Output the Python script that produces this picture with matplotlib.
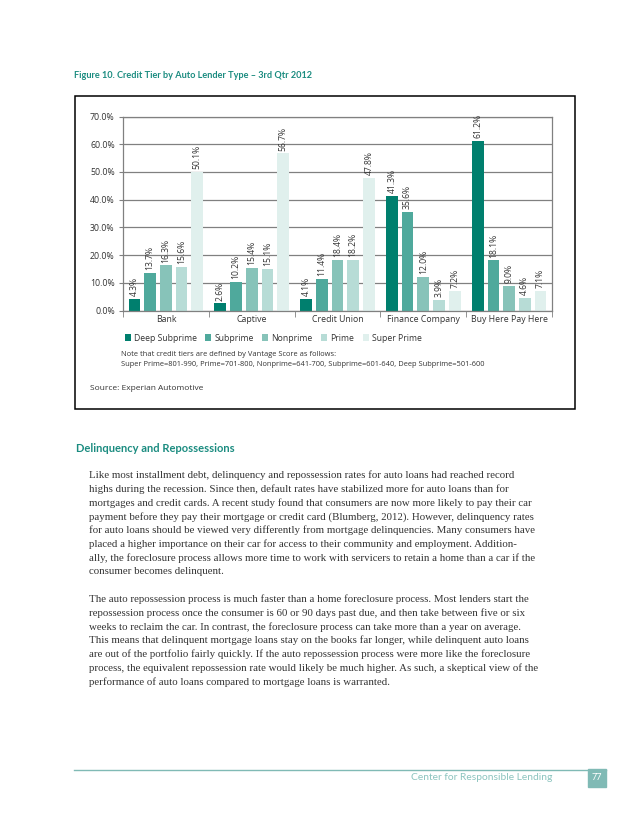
import matplotlib.pyplot as plt
from matplotlib.patches import Rectangle
from matplotlib.ticker import FuncFormatter
import numpy as np

# data
lenders = ['Bank', 'Captive', 'Credit Union', 'Finance Company', 'Buy Here Pay Here']
tiers = ['Deep Subprime', 'Subprime', 'Nonprime', 'Prime', 'Super Prime']
deep_subprime = [4.3, 2.6, 4.1, 41.3, 61.2]
subprime = [13.7, 10.2, 11.4, 35.6, 18.1]
nonprime = [16.3, 15.4, 18.4, 12.0, 9.0]
prime = [15.6, 15.1, 18.2, 3.9, 4.6]
super_prime = [50.1, 56.7, 47.8, 7.2, 7.1]
yticks = [0, 10, 20, 30, 40, 50, 60, 70]

farger = ['#007f6e', '#4fa99c', '#87c3b9', '#b7dcd6', '#e0f0ed']
teal = '#1b8c80'
tekst = '#333333'

W, H = 638, 826

def fx(x):
    return x / W

def fy(y):
    return 1 - y / H

fig = plt.figure(figsize=(W / 100, H / 100), dpi=100)

# tittel og ramme
fig.text(fx(74), fy(76), 'Figure 10. Credit Tier by Auto Lender Type \u2013 3rd Qtr 2012',
         family='Lato', weight='bold', fontsize=6.6, color=teal, va='center')
fig.patches.append(Rectangle((fx(75), fy(409)), fx(575) - fx(75), fy(96) - fy(409),
                             transform=fig.transFigure, fill=False, ec='black', lw=1.1))

# diagram
ax = fig.add_axes([fx(123), fy(310.5), fx(552) - fx(123), fy(116.5) - fy(310.5)])
serier = [deep_subprime, subprime, nonprime, prime, super_prime]
x = np.arange(len(lenders))
steg = 0.183
bredde = 0.136
for j, verdier in enumerate(serier):
    pos = x + (j - 2) * steg
    ax.bar(pos, verdier, width=bredde, color=farger[j], label=tiers[j], zorder=2)
    for p, v in zip(pos, verdier):
        ax.text(p, v + 1.0, f'{v:.1f}%', rotation=90, ha='center', va='bottom',
                fontsize=6.2, color=tekst, family='Open Sans')

ax.set_xlim(-0.5, 4.5)
ax.set_ylim(0, 70)
ax.set_yticks(yticks)
ax.yaxis.set_major_formatter(FuncFormatter(lambda v, p: f'{v:.1f}%'))
ax.grid(axis='y', color='#808080', lw=0.9, zorder=0)
for s in ax.spines.values():
    s.set_color('#808080')
    s.set_linewidth(0.9)
ax.set_xticks(x)
ax.set_xticklabels(lenders)
ax.set_xticks(np.arange(-0.5, 5, 1), minor=True)
ax.tick_params(axis='x', which='major', length=0, pad=3, labelsize=6.3, labelcolor=tekst)
ax.tick_params(axis='x', which='minor', length=4, color='#808080', direction='out')
ax.tick_params(axis='y', length=3, color='#808080', pad=3, labelsize=6.3, labelcolor=tekst)
for lbl in ax.get_xticklabels() + ax.get_yticklabels():
    lbl.set_family('Open Sans')

fig.legend(loc='center left', bbox_to_anchor=(fx(117), fy(338)), ncol=5, frameon=False,
           handlelength=0.7, handleheight=0.7, handletextpad=0.35, columnspacing=1.0,
           prop={'family': 'Open Sans', 'size': 6.2}, labelcolor=tekst)

fig.text(fx(121), fy(354), 'Note that credit tiers are defined by Vantage Score as follows:',
         family='Open Sans', fontsize=5.4, color=tekst, va='center')
fig.text(fx(121), fy(364.5),
         'Super Prime=801-990, Prime=701-800, Nonprime=641-700, Subprime=601-640, Deep Subprime=501-600',
         family='Open Sans', fontsize=5.4, color=tekst, va='center')
fig.text(fx(90), fy(389), 'Source: Experian Automotive', family='Open Sans', fontsize=6.0,
         color=tekst, va='center')

# brødtekst
fig.text(fx(76), fy(448), 'Delinquency and Repossessions', family='Lato', weight='bold',
         fontsize=8.0, color=teal, va='center')

avsnitt1 = [
    'Like most installment debt, delinquency and repossession rates for auto loans had reached record',
    'highs during the recession. Since then, default rates have stabilized more for auto loans than for',
    'mortgages and credit cards. A recent study found that consumers are now more likely to pay their car',
    'payment before they pay their mortgage or credit card (Blumberg, 2012). However, delinquency rates',
    'for auto loans should be viewed very differently from mortgage delinquencies. Many consumers have',
    'placed a higher importance on their car for access to their community and employment. Addition-',
    'ally, the foreclosure process allows more time to work with servicers to retain a home than a car if the',
    'consumer becomes delinquent.',
]
avsnitt2 = [
    'The auto repossession process is much faster than a home foreclosure process. Most lenders start the',
    'repossession process once the consumer is 60 or 90 days past due, and then take between five or six',
    'weeks to reclaim the car. In contrast, the foreclosure process can take more than a year on average.',
    'This means that delinquent mortgage loans stay on the books far longer, while delinquent auto loans',
    'are out of the portfolio fairly quickly. If the auto repossession process were more like the foreclosure',
    'process, the equivalent repossession rate would likely be much higher. As such, a skeptical view of the',
    'performance of auto loans compared to mortgage loans is warranted.',
]
linje = 13.85
for i, t in enumerate(avsnitt1):
    fig.text(fx(89), fy(475 + i * linje), t, family='Liberation Serif', fontsize=7.85,
             color=tekst, va='center')
for i, t in enumerate(avsnitt2):
    fig.text(fx(89), fy(599 + i * linje), t, family='Liberation Serif', fontsize=7.85,
             color=tekst, va='center')

# bunntekst
fig.add_artist(plt.Line2D([fx(74), fx(606)], [fy(769.5), fy(769.5)], color='#80bab5', lw=1.0))
fig.patches.append(Rectangle((fx(588), fy(787)), fx(606) - fx(588), fy(769) - fy(787),
                             transform=fig.transFigure, color='#80bab5'))
fig.text(fx(597), fy(778), '77', color='white', fontsize=6.5, ha='center', va='center',
         family='Lato')
fig.text(fx(552), fy(777), 'Center for Responsible Lending', color='#8cc4bf', fontsize=7.4,
         ha='right', va='center', family='Lato')

fig.savefig('out.png', dpi=100)
